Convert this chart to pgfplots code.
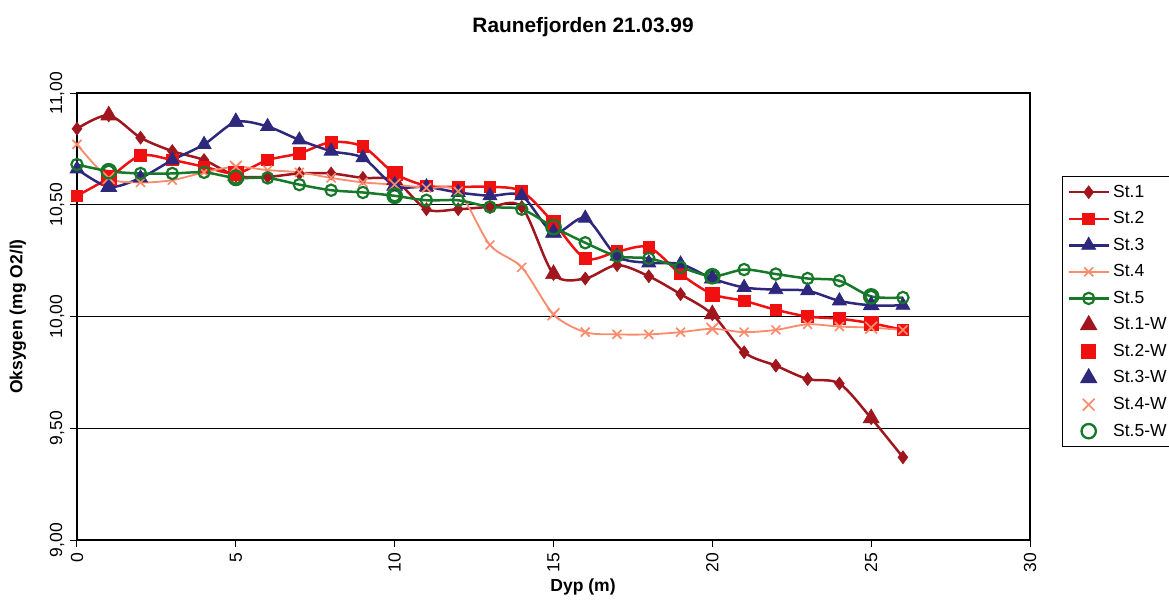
\documentclass[border=0pt]{standalone}
\usepackage{fontspec}
\setmainfont{Liberation Sans}
\usepackage{pgfplots}
\usepackage{pgfplotstable}
\pgfplotsset{compat=1.18}
\definecolor{cOne}{RGB}{160,22,30}
\definecolor{cTwo}{RGB}{240,16,16}
\definecolor{cThree}{RGB}{46,40,125}
\definecolor{cFour}{RGB}{250,140,110}
\definecolor{cFive}{RGB}{22,120,40}

\pgfplotstableread{
d  st1    st2    st3    st4    st5
0  10.84  10.54  10.66  10.77  10.68
1  10.90  10.62  10.58  10.62  10.65
2  10.80  10.72  10.62  10.60  10.64
3  10.74  10.70  10.70  10.61  10.64
4  10.70  10.67  10.77  10.645 10.645
5  10.63  10.64  10.87  10.67  10.62
6  10.625 10.70  10.85  10.655 10.62
7  10.64  10.73  10.79  10.645 10.59
8  10.64  10.78  10.74  10.62  10.565
9  10.62  10.76  10.71  10.60  10.555
10 10.61  10.64  10.585 10.59  10.54
11 10.48  10.585 10.58  10.575 10.52
12 10.48  10.58  10.555 10.56  10.52
13 10.49  10.58  10.54  10.32  10.49
14 10.49  10.56  10.54  10.22  10.48
15 10.19  10.42  10.375 10.01  10.40
16 10.17  10.26  10.44  9.93   10.33
17 10.23  10.29  10.27  9.92   10.27
18 10.18  10.31  10.24  9.92   10.26
19 10.10  10.19  10.235 9.93   10.22
20 10.01  10.10  10.17  9.945  10.18
21 9.84   10.07  10.13  9.93   10.21
22 9.78   10.03  10.12  9.94   10.19
23 9.72   10.00  10.115 9.965  10.17
24 9.70   9.99   10.07  9.955  10.16
25 9.545  9.97   10.05  9.95   10.09
26 9.37   9.94   10.05  9.94   10.085
}\maintab

\pgfplotstableread{
d  st1    st2    st3    st4    st5
1  10.90  10.62  10.58  10.62  10.65
5  10.63  10.64  10.87  10.67  10.62
10 10.61  10.64  10.585 10.59  10.54
15 10.19  10.42  10.375 10.01  10.40
20 10.01  10.10  10.17  9.945  10.18
25 9.545  9.97   10.05  9.95   10.09
}\wtab

\begin{document}
\begin{tikzpicture}
\begin{axis}[
  at={(0pt,0pt)}, anchor=south west,
  scale only axis, width=571.8pt, height=268.2pt,
  xmin=0, xmax=30, ymin=9, ymax=11,
  xtick={0,5,...,30}, ytick={9,9.5,10,10.5,11},
  ymajorgrids, grid style={black, line width=0.6pt},
  axis line style={black, line width=0.8pt},
  tick align=outside, xtick pos=left, ytick pos=left,
  major tick length=4pt, tick style={black, line width=0.6pt},
  /pgf/number format/assume math mode=true,
  ticklabel style={font=\fontsize{10.5}{12}\selectfont},
  yticklabel style={rotate=90, anchor=south, /pgf/number format/.cd, fixed, fixed zerofill, precision=2, use comma},
  xticklabel style={rotate=90, anchor=east},
  title={Raunefjorden 21.03.99},
  title style={at={(axis description cs:0.531,1)}, anchor=center, yshift=33.6pt, font=\bfseries\fontsize{12.5}{14}\selectfont},
  xlabel={Dyp (m)},
  xlabel style={at={(axis description cs:0.531,-0.105)}, anchor=center, font=\bfseries\fontsize{10.5}{12}\selectfont},
  ylabel={Oksygen (mg O2/l)},
  ylabel style={at={(axis description cs:-0.0619,0.5)}, anchor=center, font=\bfseries\fontsize{10.5}{12}\selectfont},
  legend style={at={(axis description cs:1.0336,0.8143)}, anchor=north west, draw=black, line width=0.6pt,
    font=\fontsize{10.5}{12}\selectfont, row sep=3.1pt, inner sep=3pt},
  legend cell align=left,
  legend image code/.code={\draw[mark repeat=2,mark phase=2,#1] plot coordinates {(0cm,0cm)(0.42cm,0cm)(0.84cm,0cm)};},
]
\addplot[cOne, line width=1.5pt, smooth, tension=0.5, mark=diamond*, mark size=3.8pt, mark options={solid, fill=cOne, line width=0.5pt}] table[x=d,y=st1]{\maintab};
\addplot[cTwo, line width=1.5pt, smooth, tension=0.5, mark=square*, mark size=3.5pt, mark options={solid, fill=cTwo, line width=0.5pt}] table[x=d,y=st2]{\maintab};
\addplot[cThree, line width=1.5pt, smooth, tension=0.5, mark=triangle*, mark size=4.8pt, mark options={solid, fill=cThree, line width=0.5pt}] table[x=d,y=st3]{\maintab};
\addplot[cFour, line width=1.1pt, smooth, tension=0.5, mark=x, mark size=3.8pt, mark options={solid, line width=1pt}] table[x=d,y=st4]{\maintab};
\addplot[cFive, line width=1.5pt, smooth, tension=0.5, mark=o, mark size=3.4pt, mark options={solid, line width=1.3pt}] table[x=d,y=st5]{\maintab};
\addplot[only marks, cOne, mark=triangle*, mark size=5.5pt, mark options={fill=cOne}] table[x=d,y=st1]{\wtab};
\addplot[only marks, cTwo, mark=square*, mark size=4.3pt, mark options={fill=cTwo}] table[x=d,y=st2]{\wtab};
\addplot[only marks, cThree, mark=triangle*, mark size=5.5pt, mark options={fill=cThree}] table[x=d,y=st3]{\wtab};
\addplot[only marks, cFour, mark=x, mark size=5pt, mark options={line width=1pt}] table[x=d,y=st4]{\wtab};
\addplot[only marks, cFive, mark=o, mark size=4.3pt, mark options={line width=1.4pt}] table[x=d,y=st5]{\wtab};
\legend{St.1,St.2,St.3,St.4,St.5,St.1-W,St.2-W,St.3-W,St.4-W,St.5-W}
\end{axis}
\pgfresetboundingbox
\path[use as bounding box] (-46.2pt,-35.4pt) rectangle (655.2pt,324pt);
\end{tikzpicture}
\end{document}
